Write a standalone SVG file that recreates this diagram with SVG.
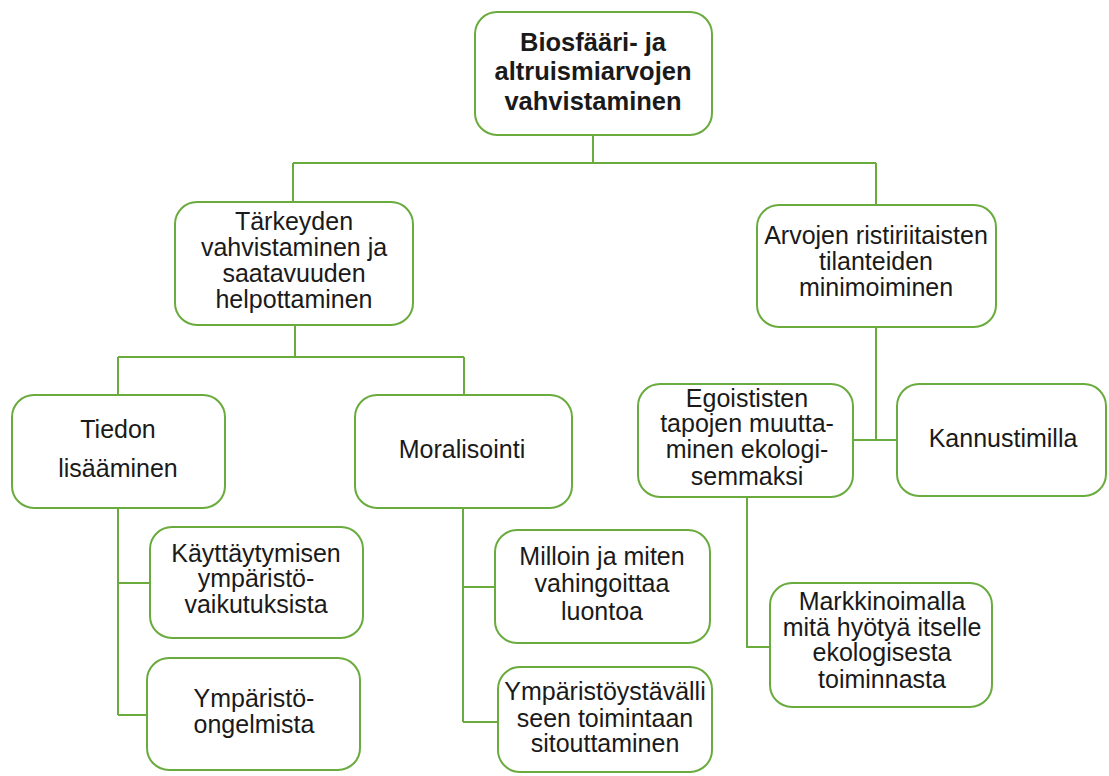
<svg xmlns="http://www.w3.org/2000/svg" width="1109" height="776" viewBox="0 0 1109 776">
<style>
.n{fill:#fff;stroke:#6aab3e;stroke-width:2}
.c{fill:none;stroke:#6aab3e;stroke-width:2}
text{font-family:"Liberation Sans",Arial,sans-serif;font-size:25px;fill:#1a1a1a;text-anchor:middle}
.b{font-weight:bold;font-size:25.5px}
</style>
<rect width="1109" height="776" fill="#fff"/>
<g id="connectors">
<path class="c" d="M593 135V163M293 163H876M293 163V202M876 163V205"/>
<path class="c" d="M295 325V357M118 357H464M118 357V395M464 357V395"/>
<path class="c" d="M118 508V715M118 583H150M118 715H147"/>
<path class="c" d="M463 508V722M463 587H495M463 722H498"/>
<path class="c" d="M876 327V440M853 440H897"/>
<path class="c" d="M747 497V647H770"/>
</g>
<g id="n1"><rect class="n" x="475" y="12" width="237" height="123" rx="22"/>
<text class="b" x="593" y="51">Biosfääri- ja</text><text class="b" x="593" y="80">altruismiarvojen</text><text class="b" x="593" y="110">vahvistaminen</text></g>
<g id="n2"><rect class="n" x="175" y="202" width="238" height="123" rx="22"/>
<text x="294" y="230">Tärkeyden</text><text x="294" y="256">vahvistaminen ja</text><text x="294" y="282">saatavuuden</text><text x="294" y="308">helpottaminen</text></g>
<g id="n3"><rect class="n" x="757" y="205" width="239" height="122" rx="22"/>
<text x="876" y="244">Arvojen ristiriitaisten</text><text x="876" y="270">tilanteiden</text><text x="876" y="296">minimoiminen</text></g>
<g id="n4"><rect class="n" x="12" y="395" width="213" height="113" rx="22"/>
<text x="118" y="438">Tiedon</text><text x="118" y="477">lisääminen</text></g>
<g id="n5"><rect class="n" x="355" y="395" width="217" height="113" rx="22"/>
<text x="462" y="458">Moralisointi</text></g>
<g id="n6"><rect class="n" x="638" y="384" width="215" height="113" rx="22"/>
<text x="747" y="407">Egoististen</text><text x="747" y="432">tapojen muutta-</text><text x="747" y="458">minen ekologi-</text><text x="747" y="485">semmaksi</text></g>
<g id="n7"><rect class="n" x="897" y="384" width="209" height="112" rx="22"/>
<text x="1003" y="447">Kannustimilla</text></g>
<g id="n8"><rect class="n" x="150" y="527" width="213" height="111" rx="22"/>
<text x="256" y="562">Käyttäytymisen</text><text x="256" y="587">ympäristö-</text><text x="256" y="613">vaikutuksista</text></g>
<g id="n9"><rect class="n" x="147" y="658" width="213" height="112" rx="22"/>
<text x="254" y="707">Ympäristö-</text><text x="254" y="733">ongelmista</text></g>
<g id="n10"><rect class="n" x="495" y="530" width="215" height="113" rx="22"/>
<text x="602" y="565">Milloin ja miten</text><text x="602" y="592">vahingoittaa</text><text x="602" y="620">luontoa</text></g>
<g id="n11"><rect class="n" x="498" y="667" width="214" height="105" rx="22"/>
<text x="605" y="700">Ympäristöystävälli</text><text x="605" y="727">seen toimintaan</text><text x="605" y="752">sitouttaminen</text></g>
<g id="n12"><rect class="n" x="770" y="583" width="222" height="124" rx="22"/>
<text x="882" y="610">Markkinoimalla</text><text x="882" y="636">mitä hyötyä itselle</text><text x="882" y="661">ekologisesta</text><text x="882" y="688">toiminnasta</text></g>
</svg>
